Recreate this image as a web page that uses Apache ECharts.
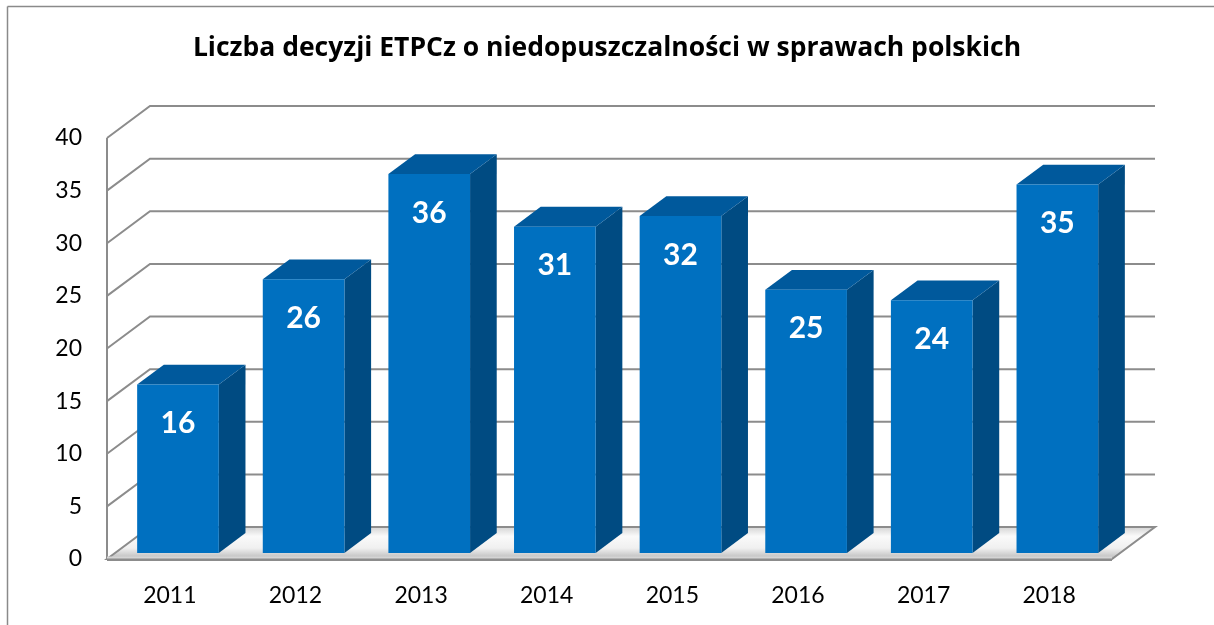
<!DOCTYPE html>
<html><head><meta charset="utf-8">
<script src="https://cdn.jsdelivr.net/npm/echarts@6/dist/echarts.min.js"></script>
<style>html,body{margin:0;padding:0;background:#fff}#c{width:1214px;height:625px}</style>
</head><body><div id="c"></div>
<script>
const chartTitle = 'Liczba decyzji ETPCz o niedopuszczalności w sprawach polskich';
const categories = ['2011','2012','2013','2014','2015','2016','2017','2018'];
const values = [16, 26, 36, 31, 32, 25, 24, 35];
const gridTicks = [5, 10, 15, 20, 25, 30, 35, 40];

const DEPTH = [43, -32];
const BAR_FRONT = 0.19, BAR_BACK = 0.81, BAR_WIDTH = 0.65;
const FONT = 'Lato';
const GRID_COLOR = '#8c8c8c';

const chart = echarts.init(document.getElementById('c'), null, {renderer: 'canvas'});

function wallsItem(params, api) {
  const cs = params.coordSys;
  const v = api.value(1);
  const y = api.coord([0, v])[1];
  return {
    type: 'polyline',
    shape: {points: [[cs.x, y], [cs.x + DEPTH[0], y + DEPTH[1]], [cs.x + cs.width + DEPTH[0], y + DEPTH[1]]]},
    style: {stroke: GRID_COLOR, lineWidth: 2, fill: null}
  };
}

function floorItem(params, api) {
  const cs = params.coordSys;
  const y0 = api.coord([0, 0])[1];
  const yTop = api.coord([0, 40])[1];
  const x0 = cs.x, x1 = cs.x + cs.width;
  const grad = new echarts.graphic.LinearGradient(0, 0, 0, 1, [
    {offset: 0, color: '#d0d0d0'},
    {offset: 0.3, color: '#fafafa'},
    {offset: 0.65, color: '#f0f0f0'},
    {offset: 1, color: '#b4b4b4'}
  ]);
  return {
    type: 'group',
    children: [
      {type: 'line', shape: {x1: x0, y1: yTop, x2: x0, y2: y0}, style: {stroke: GRID_COLOR, lineWidth: 2}},
      {type: 'polygon', shape: {points: [[x0, y0], [x1, y0], [x1 + DEPTH[0], y0 + DEPTH[1]], [x0 + DEPTH[0], y0 + DEPTH[1]]]},
        style: {fill: grad, stroke: GRID_COLOR, lineWidth: 2}},
      {type: 'line', shape: {x1: x0, y1: y0 - 1.5, x2: x1, y2: y0 - 1.5}, style: {stroke: '#d4d4d4', lineWidth: 2}},
      {type: 'line', shape: {x1: x0, y1: y0 + 1, x2: x1, y2: y0 + 1}, style: {stroke: GRID_COLOR, lineWidth: 2}}
    ]
  };
}

function barItem(params, api) {
  const idx = api.value(0), val = api.value(1);
  const base = api.coord([idx, 0]);
  const top = api.coord([idx, val]);
  const band = api.size([1, 0])[0];
  const w = band * BAR_WIDTH;
  const fx = DEPTH[0] * BAR_FRONT, fy = DEPTH[1] * BAR_FRONT;
  const bx = DEPTH[0] * (BAR_BACK - BAR_FRONT), by = DEPTH[1] * (BAR_BACK - BAR_FRONT);
  const xl = base[0] - w / 2 + fx, xr = base[0] + w / 2 + fx;
  const yb = base[1] + fy, yt = top[1] + fy;
  return {
    type: 'group',
    children: [
      {type: 'polygon', shape: {points: [[xr, yt], [xr + bx, yt + by], [xr + bx, yb + by], [xr, yb]]}, style: {fill: '#004b82'}},
      {type: 'polygon', shape: {points: [[xl, yt], [xr, yt], [xr + bx, yt + by], [xl + bx, yt + by]]}, style: {fill: '#00599c'}},
      {type: 'rect', shape: {x: xl, y: yt, width: xr - xl, height: yb - yt}, style: {fill: '#0070c0'}},
      {type: 'text', style: {text: String(val), x: (xl + xr) / 2, y: yt + 39, fill: '#ffffff',
        fontSize: 30, fontWeight: 'bold', fontFamily: FONT, align: 'center', verticalAlign: 'middle'}}
    ]
  };
}

chart.setOption({
  animation: false,
  title: {text: chartTitle, left: 'center', top: 30,
    textStyle: {fontFamily: 'Open Sans', fontWeight: 'bold', fontSize: 26.5, color: '#000'}},
  grid: {left: 107, right: 102, top: 138, bottom: 66},
  xAxis: {type: 'category', data: categories, axisLine: {show: false}, axisTick: {show: false},
    axisLabel: {margin: 25, fontSize: 23, color: '#000', fontFamily: FONT}},
  yAxis: {type: 'value', min: 0, max: 40, interval: 5, axisLine: {show: false}, axisTick: {show: false},
    splitLine: {show: false}, axisLabel: {margin: 25, fontSize: 23, color: '#000', fontFamily: FONT}},
  series: [
    {type: 'custom', data: gridTicks.map(v => [0, v]), renderItem: wallsItem, z: 1, silent: true},
    {type: 'custom', data: [[0, 0]], renderItem: floorItem, z: 2, silent: true},
    {type: 'custom', data: values.map((v, i) => [i, v]), renderItem: barItem, z: 3}
  ],
  graphic: [
    {type: 'line', shape: {x1: 7.5, y1: 6.5, x2: 1214, y2: 6.5}, style: {stroke: '#8a8a8a', lineWidth: 1.5}},
    {type: 'line', shape: {x1: 7.5, y1: 6.5, x2: 7.5, y2: 625}, style: {stroke: '#8a8a8a', lineWidth: 1.5}}
  ]
});
</script></body></html>
